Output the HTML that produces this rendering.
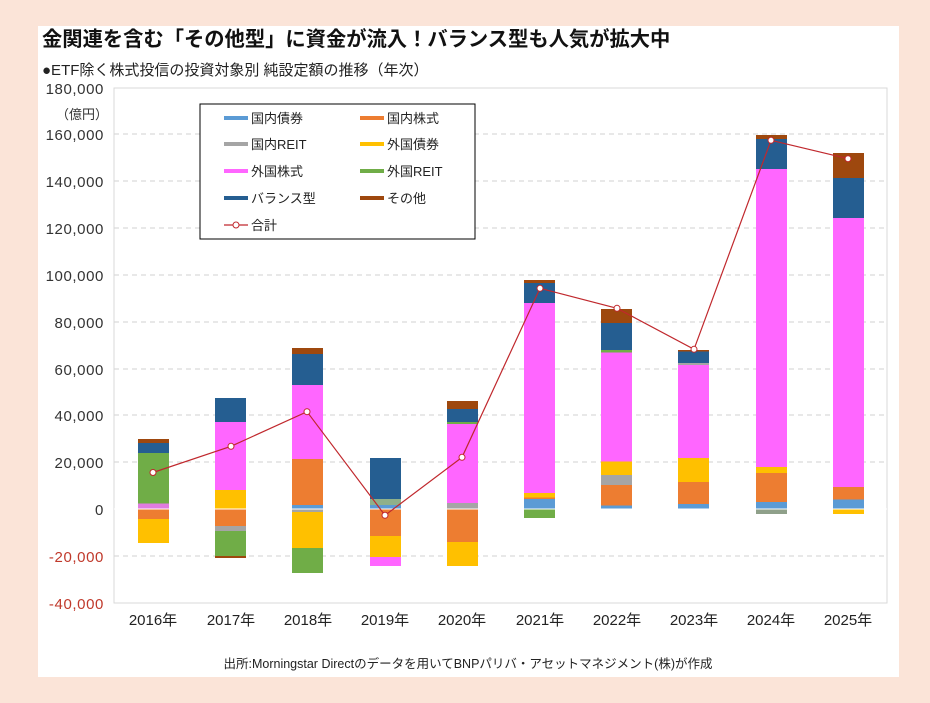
<!DOCTYPE html>
<html><head><meta charset="utf-8"><style>
body{margin:0;background:#fbe4d8;}
svg{display:block;font-family:"Liberation Sans","Noto Sans CJK JP",sans-serif;}
</style></head><body>
<svg width="930" height="703" viewBox="0 0 930 703">
<rect x="0" y="0" width="930" height="703" fill="#fbe4d8"/>
<rect x="38" y="26" width="861" height="651" fill="#fff"/>
<text x="42" y="46" font-size="20.3" font-weight="bold" fill="#111">金関連を含む「その他型」に資金が流入！バランス型も人気が拡大中</text>
<text x="42" y="75" font-size="15" fill="#222">●ETF除く株式投信の投資対象別 純設定額の推移（年次）</text>
<g stroke="#d0d0d0" stroke-dasharray="5,4" stroke-width="1">
<line x1="114" x2="887" y1="134" y2="134"/><line x1="114" x2="887" y1="181" y2="181"/>
<line x1="114" x2="887" y1="228" y2="228"/><line x1="114" x2="887" y1="275" y2="275"/>
<line x1="114" x2="887" y1="322" y2="322"/><line x1="114" x2="887" y1="369" y2="369"/>
<line x1="114" x2="887" y1="415" y2="415"/><line x1="114" x2="887" y1="462" y2="462"/>
<line x1="114" x2="887" y1="556" y2="556"/>
</g>
<rect x="114" y="88" width="773" height="515" fill="none" stroke="#d9d9d9"/>
<line x1="114" x2="887" y1="509" y2="509" stroke="#d0d0d0"/>
<g font-size="15" fill="#333" text-anchor="end" letter-spacing="0.6">
<text x="104" y="94">180,000</text><text x="104" y="140">160,000</text><text x="104" y="187">140,000</text>
<text x="104" y="234">120,000</text><text x="104" y="281">100,000</text><text x="104" y="328">80,000</text>
<text x="104" y="375">60,000</text><text x="104" y="421">40,000</text><text x="104" y="468">20,000</text>
<text x="104" y="515">0</text>
<text x="104" y="562" fill="#c0392b">-20,000</text><text x="104" y="609" fill="#c0392b">-40,000</text>
</g>
<text x="56" y="119" font-size="13" fill="#333">（億円）</text>
<g font-size="15" fill="#222" text-anchor="middle">
<text x="153" y="625">2016年</text><text x="231" y="625">2017年</text><text x="308" y="625">2018年</text>
<text x="385" y="625">2019年</text><text x="462" y="625">2020年</text><text x="540" y="625">2021年</text>
<text x="617" y="625">2022年</text><text x="694" y="625">2023年</text><text x="771" y="625">2024年</text>
<text x="848" y="625">2025年</text>
</g>
<g>
<rect x="138" y="503.5" width="31" height="5.5" fill="#e07ce0"/>
<rect x="138" y="453" width="31" height="50.5" fill="#70ad47"/>
<rect x="138" y="443" width="31" height="10" fill="#255e91"/>
<rect x="138" y="439" width="31" height="4" fill="#9e480e"/>
<rect x="138" y="509" width="31" height="10" fill="#ed7d31"/>
<rect x="138" y="519" width="31" height="24" fill="#ffc000"/>
<rect x="215" y="490" width="31" height="19" fill="#ffc000"/>
<rect x="215" y="422" width="31" height="68" fill="#ff66ff"/>
<rect x="215" y="398" width="31" height="24" fill="#255e91"/>
<rect x="215" y="509" width="31" height="17" fill="#ed7d31"/>
<rect x="215" y="526" width="31" height="5" fill="#a5a5a5"/>
<rect x="215" y="531" width="31" height="25" fill="#70ad47"/>
<rect x="215" y="556" width="31" height="2" fill="#9e480e"/>
<rect x="292" y="505" width="31" height="4" fill="#5b9bd5"/>
<rect x="292" y="459" width="31" height="46" fill="#ed7d31"/>
<rect x="292" y="385" width="31" height="74" fill="#ff66ff"/>
<rect x="292" y="354" width="31" height="31" fill="#255e91"/>
<rect x="292" y="348" width="31" height="6" fill="#9e480e"/>
<rect x="292" y="509" width="31" height="3" fill="#a5a5a5"/>
<rect x="292" y="512" width="31" height="36" fill="#ffc000"/>
<rect x="292" y="548" width="31" height="25" fill="#70ad47"/>
<rect x="370" y="505" width="31" height="4" fill="#5b9bd5"/>
<rect x="370" y="499" width="31" height="6" fill="#8fb08a"/>
<rect x="370" y="458" width="31" height="41" fill="#255e91"/>
<rect x="370" y="509" width="31" height="27" fill="#ed7d31"/>
<rect x="370" y="536" width="31" height="21" fill="#ffc000"/>
<rect x="370" y="557" width="31" height="9" fill="#ff66ff"/>
<rect x="447" y="503" width="31" height="6" fill="#a5a5a5"/>
<rect x="447" y="424" width="31" height="79" fill="#ff66ff"/>
<rect x="447" y="422" width="31" height="2" fill="#70ad47"/>
<rect x="447" y="409" width="31" height="13" fill="#255e91"/>
<rect x="447" y="401" width="31" height="8" fill="#9e480e"/>
<rect x="447" y="509" width="31" height="33" fill="#ed7d31"/>
<rect x="447" y="542" width="31" height="24" fill="#ffc000"/>
<rect x="524" y="499" width="31" height="10" fill="#5b9bd5"/>
<rect x="524" y="497.5" width="31" height="1.5" fill="#ed7d31"/>
<rect x="524" y="493" width="31" height="4.5" fill="#ffc000"/>
<rect x="524" y="303" width="31" height="190" fill="#ff66ff"/>
<rect x="524" y="283" width="31" height="20" fill="#255e91"/>
<rect x="524" y="280" width="31" height="3" fill="#9e480e"/>
<rect x="524" y="509" width="31" height="9" fill="#70ad47"/>
<rect x="601" y="505.5" width="31" height="3.5" fill="#5b9bd5"/>
<rect x="601" y="485" width="31" height="20.5" fill="#ed7d31"/>
<rect x="601" y="475" width="31" height="10" fill="#a5a5a5"/>
<rect x="601" y="461.5" width="31" height="13.5" fill="#ffc000"/>
<rect x="601" y="352.5" width="31" height="109" fill="#ff66ff"/>
<rect x="601" y="350" width="31" height="2.5" fill="#70ad47"/>
<rect x="601" y="323" width="31" height="27" fill="#255e91"/>
<rect x="601" y="309" width="31" height="14" fill="#9e480e"/>
<rect x="678" y="504" width="31" height="5" fill="#5b9bd5"/>
<rect x="678" y="482" width="31" height="22" fill="#ed7d31"/>
<rect x="678" y="458" width="31" height="24" fill="#ffc000"/>
<rect x="678" y="365" width="31" height="93" fill="#ff66ff"/>
<rect x="678" y="363" width="31" height="2" fill="#a5a5a5"/>
<rect x="678" y="351" width="31" height="12" fill="#255e91"/>
<rect x="678" y="350" width="31" height="1.5" fill="#9e480e"/>
<rect x="756" y="502" width="31" height="7" fill="#5b9bd5"/>
<rect x="756" y="473" width="31" height="29" fill="#ed7d31"/>
<rect x="756" y="467" width="31" height="6" fill="#ffc000"/>
<rect x="756" y="169" width="31" height="298" fill="#ff66ff"/>
<rect x="756" y="139" width="31" height="30" fill="#255e91"/>
<rect x="756" y="135" width="31" height="4" fill="#9e480e"/>
<rect x="756" y="509" width="31" height="5" fill="#8fa08a"/>
<rect x="833" y="499.5" width="31" height="9.5" fill="#5b9bd5"/>
<rect x="833" y="487" width="31" height="12.5" fill="#ed7d31"/>
<rect x="833" y="218" width="31" height="269" fill="#ff66ff"/>
<rect x="833" y="178" width="31" height="40" fill="#255e91"/>
<rect x="833" y="153" width="31" height="25" fill="#9e480e"/>
<rect x="833" y="509" width="31" height="5" fill="#ffc000"/>
</g>
<line x1="114" x2="887" y1="509" y2="509" stroke="#fff" stroke-width="1"/>
<polyline points="153,472.5 231,446.3 307,411.7 385,515.3 462,457.3 540,288.3 617,308.3 694,349.3 771,140.3 848,158.7" fill="none" stroke="#c0282d" stroke-width="1.2"/>
<g fill="#fff" stroke="#c0282d" stroke-width="1">
<circle cx="153" cy="472.5" r="3"/><circle cx="231" cy="446.3" r="3"/><circle cx="307" cy="411.7" r="3"/>
<circle cx="385" cy="515.3" r="3"/><circle cx="462" cy="457.3" r="3"/><circle cx="540" cy="288.3" r="3"/>
<circle cx="617" cy="308.3" r="3"/><circle cx="694" cy="349.3" r="3"/><circle cx="771" cy="140.3" r="3"/>
<circle cx="848" cy="158.7" r="3"/>
</g>
<rect x="200" y="104" width="275" height="135" fill="#fff" stroke="#000" stroke-width="1"/>
<g font-size="13" fill="#222">
<rect x="224" y="116" width="24" height="4" fill="#5b9bd5"/><text x="251" y="123">国内債券</text>
<rect x="360" y="116" width="24" height="4" fill="#ed7d31"/><text x="387" y="123">国内株式</text>
<rect x="224" y="142" width="24" height="4" fill="#a5a5a5"/><text x="251" y="149">国内REIT</text>
<rect x="360" y="142" width="24" height="4" fill="#ffc000"/><text x="387" y="149">外国債券</text>
<rect x="224" y="169" width="24" height="4" fill="#ff66ff"/><text x="251" y="176">外国株式</text>
<rect x="360" y="169" width="24" height="4" fill="#70ad47"/><text x="387" y="176">外国REIT</text>
<rect x="224" y="196" width="24" height="4" fill="#255e91"/><text x="251" y="203">バランス型</text>
<rect x="360" y="196" width="24" height="4" fill="#9e480e"/><text x="387" y="203">その他</text>
<line x1="224" x2="248" y1="225" y2="225" stroke="#c0282d" stroke-width="1.2"/>
<circle cx="236" cy="225" r="3" fill="#fff" stroke="#c0282d"/><text x="251" y="230">合計</text>
</g>
<text x="468" y="668" font-size="12.5" fill="#222" text-anchor="middle">出所:Morningstar Directのデータを用いてBNPパリバ・アセットマネジメント(株)が作成</text>
</svg>
</body></html>
